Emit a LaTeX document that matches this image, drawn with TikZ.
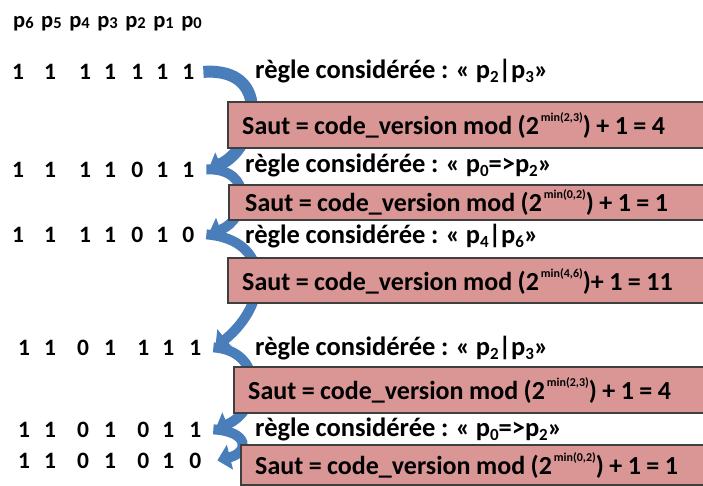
\documentclass[tikz,border=0pt]{standalone}
\usepackage{fontspec}
\setmainfont{Carlito}
\usetikzlibrary{arrows.meta}
\definecolor{boxfill}{HTML}{D99694}
\definecolor{boxline}{HTML}{3F3F3F}
\definecolor{arrowblue}{HTML}{4A7EBB}
\newcommand\psub[1]{p\raisebox{-0.35ex}{\fontsize{17}{17}\selectfont #1}}
\newcommand\hsub[1]{p\raisebox{-0.1ex}{\fontsize{16.5}{16.5}\selectfont #1}}
\newcommand\supexp[1]{\kern2pt\raisebox{1.0ex}{\fontsize{12}{12}\selectfont #1}}
\newcommand\tight{\spaceskip=0.21em plus 0.02em\relax}
\newcommand\rowA[7]{#1\hspace{20.1pt}#2\hspace{23.1pt}#3\hspace{13.1pt}#4\hspace{15.1pt}#5\hspace{13.1pt}#6\hspace{14.1pt}#7}
\newcommand\rowB[7]{#1\hspace{14.1pt}#2\hspace{21.1pt}#3\hspace{15.1pt}#4\hspace{21.1pt}#5\hspace{13.1pt}#6\hspace{15.1pt}#7}
\tikzset{
  txt/.style={font=\fontsize{23.5}{27}\selectfont\bfseries, inner sep=0pt, anchor=base west},
  hdrtxt/.style={font=\fontsize{22.5}{26}\selectfont\bfseries, inner sep=0pt, anchor=base west},
  rule/.style={font=\fontsize{26.5}{30}\selectfont\bfseries\tight, inner sep=0pt, anchor=base west},
  sbox/.style={draw=boxline, fill=boxfill, line width=1.5pt, anchor=north west, inner sep=0pt},
  stxt/.style={font=\fontsize{26}{29}\selectfont\bfseries\tight, inner sep=0pt, anchor=west},
  carrow/.style={draw=arrowblue, line width=10pt, -{Triangle[width=25pt,length=13pt]}},
}
\begin{document}
\begin{tikzpicture}[x=1pt,y=-1pt]
\clip (0,0) rectangle (703,485);
\fill[white] (0,0) rectangle (703,485);
% header
\node[hdrtxt] (hdr) at (13,27) {\hsub{6}\hspace{7.6pt}\hsub{5}\hspace{7.6pt}\hsub{4}\hspace{7.6pt}\hsub{3}\hspace{7.6pt}\hsub{2}\hspace{7.6pt}\hsub{1}\hspace{7.6pt}\hsub{0}};
% digit rows
\node[txt] (r1) at (12,79.5) {\rowA1111111};
\node[txt] (r2) at (12,177) {\rowA1111011};
\node[txt] (r3) at (12,242) {\rowA1111010};
\node[txt] (r4) at (18,355) {\rowB1101111};
\node[txt] (r5) at (18,437) {\rowB1101011};
\node[txt] (r6) at (18,468) {\rowB1101010};
% arrows
\draw[carrow, line width=12pt] ([xshift=9pt]r1.east) .. controls +(72,-5) and +(47,-20) .. ([xshift=14pt]r2.east);
\draw[carrow] ([xshift=12pt]r2.east) .. controls +(48,-2) and +(40,-15) .. ([xshift=14pt]r3.east);
\draw[carrow] ([xshift=12pt]r3.east) .. controls +(65,5) and +(55,-45) .. ([xshift=14pt]r4.east);
\draw[carrow] ([xshift=12pt]r4.east) .. controls +(50,3) and +(47,-20) .. ([xshift=14pt]r5.east);
\draw[carrow] ([xshift=12pt]r5.east) .. controls +(36,2) and +(32,-8) .. ([xshift=16pt]r6.east);
% rules
\node[rule] (g1) at (255,78) {règle considérée : « \psub{2}|\psub{3}»};
\node[rule] (g2) at (245,172) {règle considérée : « \psub{0}=>\psub{2}»};
\node[rule] (g3) at (245,243) {règle considérée : « \psub{4}|\psub{6}»};
\node[rule] (g4) at (255,355) {règle considérée : « \psub{2}|\psub{3}»};
\node[rule] (g5) at (255,436) {règle considérée : « \psub{0}=>\psub{2}»};
% boxes
\node[sbox, minimum width=483pt, minimum height=46pt] (b1) at (227,101) {};
\node[sbox, minimum width=482pt, minimum height=35pt] (b2) at (228,184) {};
\node[sbox, minimum width=483pt, minimum height=45pt] (b3) at (227,257) {};
\node[sbox, minimum width=477pt, minimum height=46pt] (b4) at (233,366) {};
\node[sbox, minimum width=470pt, minimum height=40pt] (b5) at (240,444) {};
\node[stxt] (t1) at ([xshift=15pt,yshift=-1pt]b1.west) {Saut = code\_version mod (2\supexp{min(2,3)}) + 1 = 4};
\node[stxt] (t2) at ([xshift=17pt,yshift=0pt]b2.west) {Saut = code\_version mod (2\supexp{min(0,2)}) + 1 = 1};
\node[stxt] (t3) at ([xshift=15pt,yshift=-1pt]b3.west) {Saut = code\_version mod (2\supexp{min(4,6)})+ 1 = 11};
\node[stxt] (t4) at ([xshift=15pt,yshift=-1pt]b4.west) {Saut = code\_version mod (2\supexp{min(2,3)}) + 1 = 4};
\node[stxt] (t5) at ([xshift=15pt,yshift=-1pt]b5.west) {Saut = code\_version mod (2\supexp{min(0,2)}) + 1 = 1};
\end{tikzpicture}
\end{document}
